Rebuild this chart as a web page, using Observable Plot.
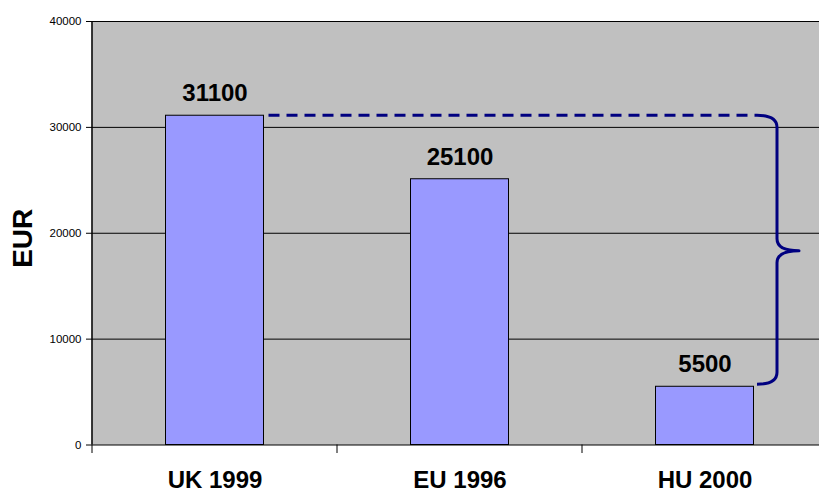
<!DOCTYPE html>
<html>
<head>
<meta charset="utf-8">
<script src="https://cdn.jsdelivr.net/npm/d3@7"></script>
<script src="https://cdn.jsdelivr.net/npm/@observablehq/plot@0.6"></script>
<style>
  html, body { margin: 0; padding: 0; background: #fff; overflow: hidden; }
  svg { display: block; font-family: "Liberation Sans", Arial, sans-serif; }
</style>
</head>
<body>
<div id="chart"></div>
<script>
// Average gross income per person, by region and year
const labels = ["UK 1999", "EU 1996", "HU 2000"];
const values = [31100, 25100, 5500];
const yTicks = [0, 10000, 20000, 30000, 40000];

const data = labels.map((label, i) => ({label, value: values[i]}));

const barInset = 73.5;
const navy = "#000080";

// Gap annotation: dashed line from the first bar's top, and a brace
// spanning from the highest value down to the lowest one.
function gapBrace(index, scales) {
  const {x, y} = scales;
  const bw = x.bandwidth();
  const hi = data[0], lo = data[data.length - 1];
  const hiRight = x(hi.label) + bw - barInset;
  const loRight = x(lo.label) + bw - barInset;
  const yTop = y(hi.value);
  const yBot = y(lo.value) - 2;
  const yMid = y((hi.value + lo.value) / 2);
  const x0 = loRight + 3.5, x1 = loRight + 23.5, x2 = loRight + 45.5;
  const g = d3.create("svg:g").attr("fill", "none").attr("stroke", navy).attr("stroke-width", 3);
  g.append("line")
    .attr("x1", hiRight + 5).attr("x2", x0)
    .attr("y1", yTop).attr("y2", yTop)
    .attr("stroke-dasharray", "11,7");
  g.append("path")
    .attr("stroke-linejoin", "round")
    .attr("d", `M${x0},${yTop} Q${x1},${yTop} ${x1},${yTop + 12}
      L${x1},${yMid - 12} Q${x1},${yMid} ${x2},${yMid}
      Q${x1},${yMid} ${x1},${yMid + 12}
      L${x1},${yBot - 12} Q${x1},${yBot} ${x0},${yBot}`);
  return g.node();
}

// Category boundary ticks and the left axis line
function axisLines(index, scales) {
  const {x, y} = scales;
  const g = d3.create("svg:g").attr("stroke", "#000");
  const y0 = y(0);
  labels.forEach(l => {
    g.append("line").attr("x1", x(l)).attr("x2", x(l))
      .attr("y1", y0).attr("y2", y0 + 8.5).attr("stroke-width", 1);
  });
  g.append("line").attr("x1", x(labels[0])).attr("x2", x(labels[0]))
    .attr("y1", y(40000)).attr("y2", y0).attr("stroke-width", 1.5);
  return g.node();
}

const chart = Plot.plot({
  width: 819,
  height: 492,
  marginLeft: 91,
  marginRight: 0,
  marginTop: 21,
  marginBottom: 47.5,
  x: {domain: labels, range: [91, 828], padding: 0, label: null},
  y: {domain: [0, 40000], label: null},
  marks: [
    Plot.frame({fill: "#c0c0c0", stroke: null}),
    Plot.ruleY(yTicks, {stroke: "#000", strokeWidth: 1}),
    Plot.barY(data, {
      x: "label", y: "value",
      fill: "#9999ff", stroke: "#000", strokeWidth: 1,
      insetLeft: barInset, insetRight: barInset
    }),
    Plot.text(data, {
      x: "label", y: "value", text: d => String(d.value),
      lineAnchor: "bottom", dy: -14.5,
      fontSize: 24, fontWeight: "bold", fill: "#000"
    }),
    Plot.axisY({
      ticks: yTicks, tickFormat: "d", tickSize: 5, tickPadding: 5,
      fontSize: 11.5, label: null, color: "#000"
    }),
    Plot.axisX({
      tickSize: 0, tickPadding: 26, fontSize: 24, fontWeight: "bold",
      label: null, color: "#000"
    }),
    Plot.text(["EUR"], {
      frameAnchor: "left", textAnchor: "middle", lineAnchor: "middle",
      dx: -68.5, dy: 5, rotate: -90,
      fontSize: 28, fontWeight: "bold", fill: "#000"
    }),
    axisLines,
    gapBrace
  ]
});

document.getElementById("chart").appendChild(chart);
</script>
</body>
</html>
